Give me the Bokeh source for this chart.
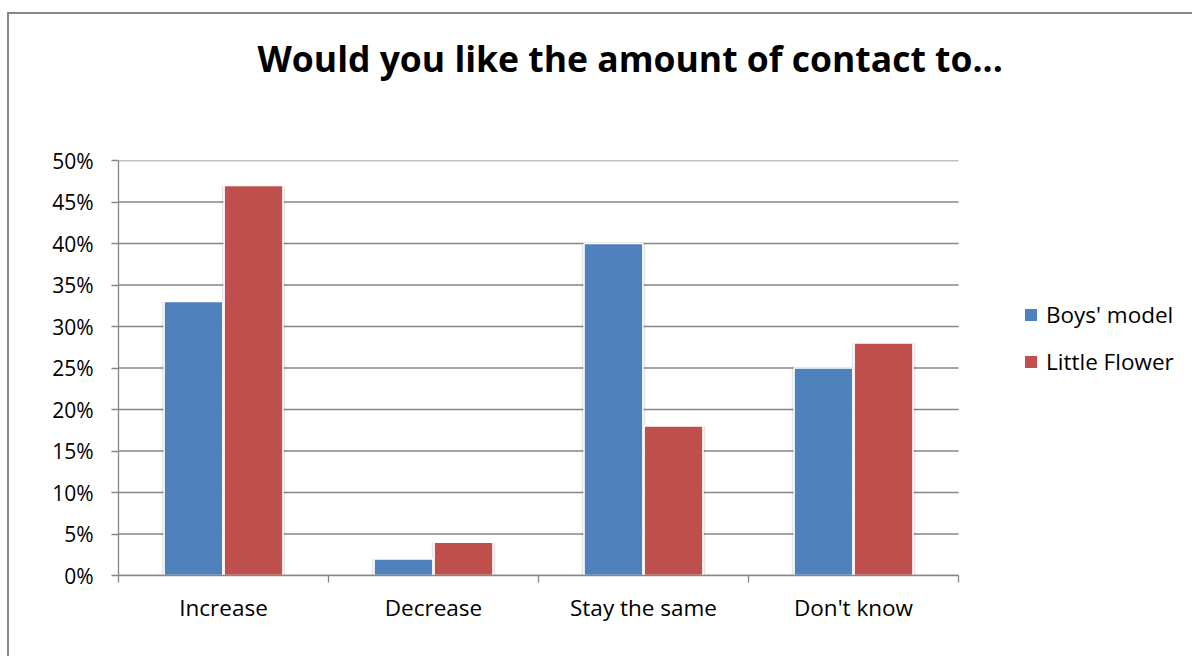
from bokeh.plotting import figure
from bokeh.models import (ColumnDataSource, FixedTicker, NumeralTickFormatter,
                          Range1d, Legend, LegendItem, Title)
from bokeh.embed import file_html
from bokeh.resources import INLINE

# Survey answers, share of respondents per answer
categories = ["Increase", "Decrease", "Stay the same", "Don't know"]
boys_model = [0.33, 0.02, 0.40, 0.25]
little_flower = [0.47, 0.04, 0.18, 0.28]
series_names = ["Boys' model", "Little Flower"]
y_ticks = [0.0, 0.05, 0.10, 0.15, 0.20, 0.25, 0.30, 0.35, 0.40, 0.45, 0.50]
title_text = "Would you like the amount of contact to..."

FONT = "Open Sans"
GREY = "#868686"
BLUE = "#4F81BD"
RED = "#C0504D"

# page geometry (pixels)
CANVAS_W, CANVAS_H = 1185, 644
LEFT, TOP, BOTTOM = 109, 146, 83
PLOT_W = 840                      # width taken by the category axis
FRAME_W = CANVAS_W - LEFT         # frame also hosts the legend on its right

n = len(categories)
centers = [i + 0.5 for i in range(n)]
bar_w = 0.28
shift = 0.143
x_end = n * FRAME_W / PLOT_W

src = ColumnDataSource(data=dict(
    boys=boys_model,
    flower=little_flower,
    boys_x=[c - shift for c in centers],
    flower_x=[c + shift for c in centers],
))
grid_src = ColumnDataSource(data=dict(y=y_ticks))

p = figure(width=CANVAS_W, height=CANVAS_H,
           x_range=Range1d(0, x_end), y_range=Range1d(y_ticks[0], y_ticks[-1]),
           output_backend="svg", toolbar_location=None,
           min_border_left=LEFT, min_border_right=0,
           min_border_top=TOP, min_border_bottom=BOTTOM)
p.title.text = ""
p.margin = (12, 0, 0, 7)
p.styles = {"border-left": "2px solid #878787", "border-top": "2px solid #878787"}

# spacer between chart title and plot area, then the title itself
p.add_layout(Title(text=" ", text_font_size="10px", standoff=66), "above")
p.add_layout(Title(text=title_text, text_font=FONT, text_font_size="35.5px",
                   text_font_style="bold", text_color="black",
                   align="left", offset=139, standoff=0), "above")

p.outline_line_color = None
p.background_fill_color = "white"
p.border_fill_color = "white"

# horizontal gridlines across the category span only
p.segment(x0=0, x1=n, y0="y", y1="y", source=grid_src,
          line_color=GREY, line_width=1.3)

# soft shadow behind the bars
p.vbar(x="boys_x", top="boys", width=bar_w + 0.022, source=src,
       fill_color="#000000", fill_alpha=0.10, line_color=None)
p.vbar(x="flower_x", top="flower", width=bar_w + 0.022, source=src,
       fill_color="#000000", fill_alpha=0.10, line_color=None)

r_boys = p.vbar(x="boys_x", top="boys", width=bar_w, source=src,
                fill_color=BLUE, line_color="white", line_width=1.5)
r_flower = p.vbar(x="flower_x", top="flower", width=bar_w, source=src,
                  fill_color=RED, line_color="white", line_width=1.5)

# value axis
p.yaxis.ticker = FixedTicker(ticks=y_ticks)
p.yaxis.formatter = NumeralTickFormatter(format="0%")
p.yaxis.axis_line_color = GREY
p.yaxis.axis_line_width = 1.3
p.yaxis.major_tick_line_color = GREY
p.yaxis.major_tick_line_width = 1.3
p.yaxis.major_tick_out = 7
p.yaxis.major_tick_in = 0
p.yaxis.minor_tick_line_color = None
p.yaxis.major_label_text_font = FONT
p.yaxis.major_label_text_font_size = "21px"
p.yaxis.major_label_text_color = "black"
p.yaxis.major_label_standoff = 18

# category axis: labels at centers, ticks at category boundaries
p.xaxis.bounds = (0, n)
p.xaxis.ticker = FixedTicker(ticks=centers, minor_ticks=list(range(n + 1)))
p.xaxis.major_label_overrides = {c: name for c, name in zip(centers, categories)}
p.xaxis.axis_line_color = GREY
p.xaxis.axis_line_width = 1.3
p.xaxis.major_tick_line_color = None
p.xaxis.major_tick_out = 0
p.xaxis.major_tick_in = 0
p.xaxis.minor_tick_line_color = GREY
p.xaxis.minor_tick_line_width = 1.3
p.xaxis.minor_tick_out = 7
p.xaxis.minor_tick_in = 0
p.xaxis.major_label_text_font = FONT
p.xaxis.major_label_text_font_size = "22.5px"
p.xaxis.major_label_text_color = "black"
p.xaxis.major_label_standoff = 9

p.xgrid.grid_line_color = None
p.ygrid.grid_line_color = None

legend = Legend(items=[LegendItem(label=series_names[0], renderers=[r_boys]),
                       LegendItem(label=series_names[1], renderers=[r_flower])],
                location=(904, 198), orientation="vertical",
                glyph_width=17, glyph_height=17, label_height=26,
                spacing=16, padding=0, margin=0, label_standoff=7,
                border_line_color=None, background_fill_alpha=0,
                label_text_font=FONT, label_text_font_size="22.5px",
                label_text_color="black")
p.add_layout(legend, "center")

open("out.html", "w").write(file_html(p, INLINE))
